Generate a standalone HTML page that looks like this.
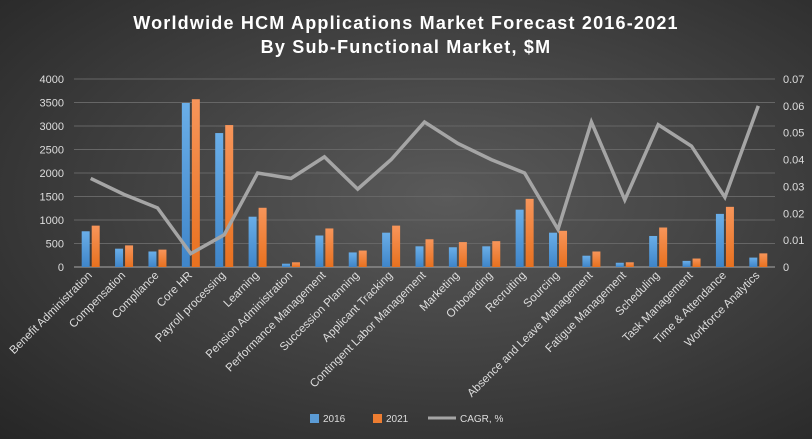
<!DOCTYPE html>
<html><head><meta charset="utf-8"><style>
body{margin:0;width:812px;height:439px;overflow:hidden;font-family:"Liberation Sans",sans-serif;}
#bg{position:absolute;left:0;top:0;width:812px;height:439px;background:radial-gradient(ellipse at 55% 45%,#5a5a5a 0%,#434343 45%,#262626 100%);}
</style></head><body>
<div id="bg"></div>
<svg id="c" width="812" height="439" style="position:absolute;left:0;top:0">
<defs>
<linearGradient id="gb" x1="0" y1="0" x2="0" y2="1"><stop offset="0" stop-color="#6aaee8"/><stop offset="1" stop-color="#3f85c9"/></linearGradient>
<linearGradient id="go" x1="0" y1="0" x2="0" y2="1"><stop offset="0" stop-color="#f7955a"/><stop offset="1" stop-color="#e8711f"/></linearGradient>
</defs>
<text x="406" y="29" text-anchor="middle" fill="#fff" font-size="18" font-weight="bold" letter-spacing="1.2">Worldwide HCM Applications Market Forecast 2016-2021</text>
<text x="406" y="53" text-anchor="middle" fill="#fff" font-size="18" font-weight="bold" letter-spacing="1.2">By Sub-Functional Market, $M</text>
<g id="grid"></g><g id="bars"></g><g id="line"></g><g id="axes"></g>
<g>
<rect x="310" y="414" width="9" height="9" fill="#5b9bd5"/>
<text x="323" y="422" fill="#ddd" font-size="10">2016</text>
<rect x="373" y="414" width="9" height="9" fill="#ed7d31"/>
<text x="386" y="422" fill="#ddd" font-size="10">2021</text>
<line x1="428" y1="418" x2="456" y2="418" stroke="#a5a5a5" stroke-width="3"/>
<text x="460" y="422" fill="#ddd" font-size="10">CAGR, %</text>
</g>
</svg>
<script>
const categories=["Benefit Administration","Compensation","Compliance","Core HR","Payroll processing","Learning","Pension Administration","Performance Management","Succession Planning","Applicant Tracking","Contingent Labor Management","Marketing","Onboarding","Recruiting","Sourcing","Absence and Leave Management","Fatigue Management","Scheduling","Task Management","Time & Attendance","Workforce Analytics"];
const values2016=[760,390,330,3490,2850,1070,70,670,310,730,440,420,440,1220,730,240,90,660,130,1130,200];
const values2021=[880,460,370,3570,3020,1260,100,820,350,880,590,530,550,1450,770,330,100,840,180,1280,290];
const cagr=[0.033,0.027,0.022,0.005,0.012,0.035,0.033,0.041,0.029,0.040,0.054,0.046,0.040,0.035,0.014,0.054,0.025,0.053,0.045,0.026,0.060];
const leftTicks=[0,500,1000,1500,2000,2500,3000,3500,4000];
const rightTicks=["0","0.01","0.02","0.03","0.04","0.05","0.06","0.07"];
const NS="http://www.w3.org/2000/svg";
const X0=74,X1=775,Y0=267,Y1=79;
const band=(X1-X0)/categories.length;
const xc=i=>X0+band*(i+0.5);
const yL=v=>Y0-(v/4000)*(Y0-Y1);
const yR=v=>Y0-(v/0.07)*(Y0-Y1);
function mk(tag,attrs,parent,txt){const e=document.createElementNS(NS,tag);for(const k in attrs)e.setAttribute(k,attrs[k]);if(txt!==undefined)e.textContent=txt;document.getElementById(parent).appendChild(e);return e;}
leftTicks.forEach((t,i)=>{
 const g=mk('line',{x1:X0,x2:X1,y1:yL(t),y2:yL(t),stroke:i?'#666':'#a8a8a8','stroke-width':1},'grid');
 
 
 const l=mk('text',{x:64,y:yL(t)+4,'text-anchor':'end',fill:'#ddd','font-size':11},'axes',t);
 
 
});
rightTicks.forEach(t=>{
 const l=mk('text',{x:783,y:yR(+t)+4,fill:'#ddd','font-size':11},'axes',t);
 
 
});
categories.forEach((c,i)=>{
 const b1=mk('rect',{x:xc(i)-9,y:yL(values2016[i]),width:8,height:Y0-yL(values2016[i]),fill:'url(#gb)'},'bars');
 
 
 const b2=mk('rect',{x:xc(i)+1,y:yL(values2021[i]),width:8,height:Y0-yL(values2021[i]),fill:'url(#go)'},'bars');
 
 
 const cx=xc(i)+2,cy=276;
 const l=mk('text',{x:cx,y:cy,'text-anchor':'end',fill:'#ddd','font-size':11.5,transform:`rotate(-45 ${cx} ${cy})`},'axes',c);
 
 
});
const pts=cagr.map((v,i)=>xc(i).toFixed(1)+','+yR(v).toFixed(1)).join(' ');
const pl=mk('polyline',{points:pts,fill:'none',stroke:'#a5a5a5','stroke-width':3.5,'stroke-linejoin':'miter'},'line');


</script>
</body></html>
